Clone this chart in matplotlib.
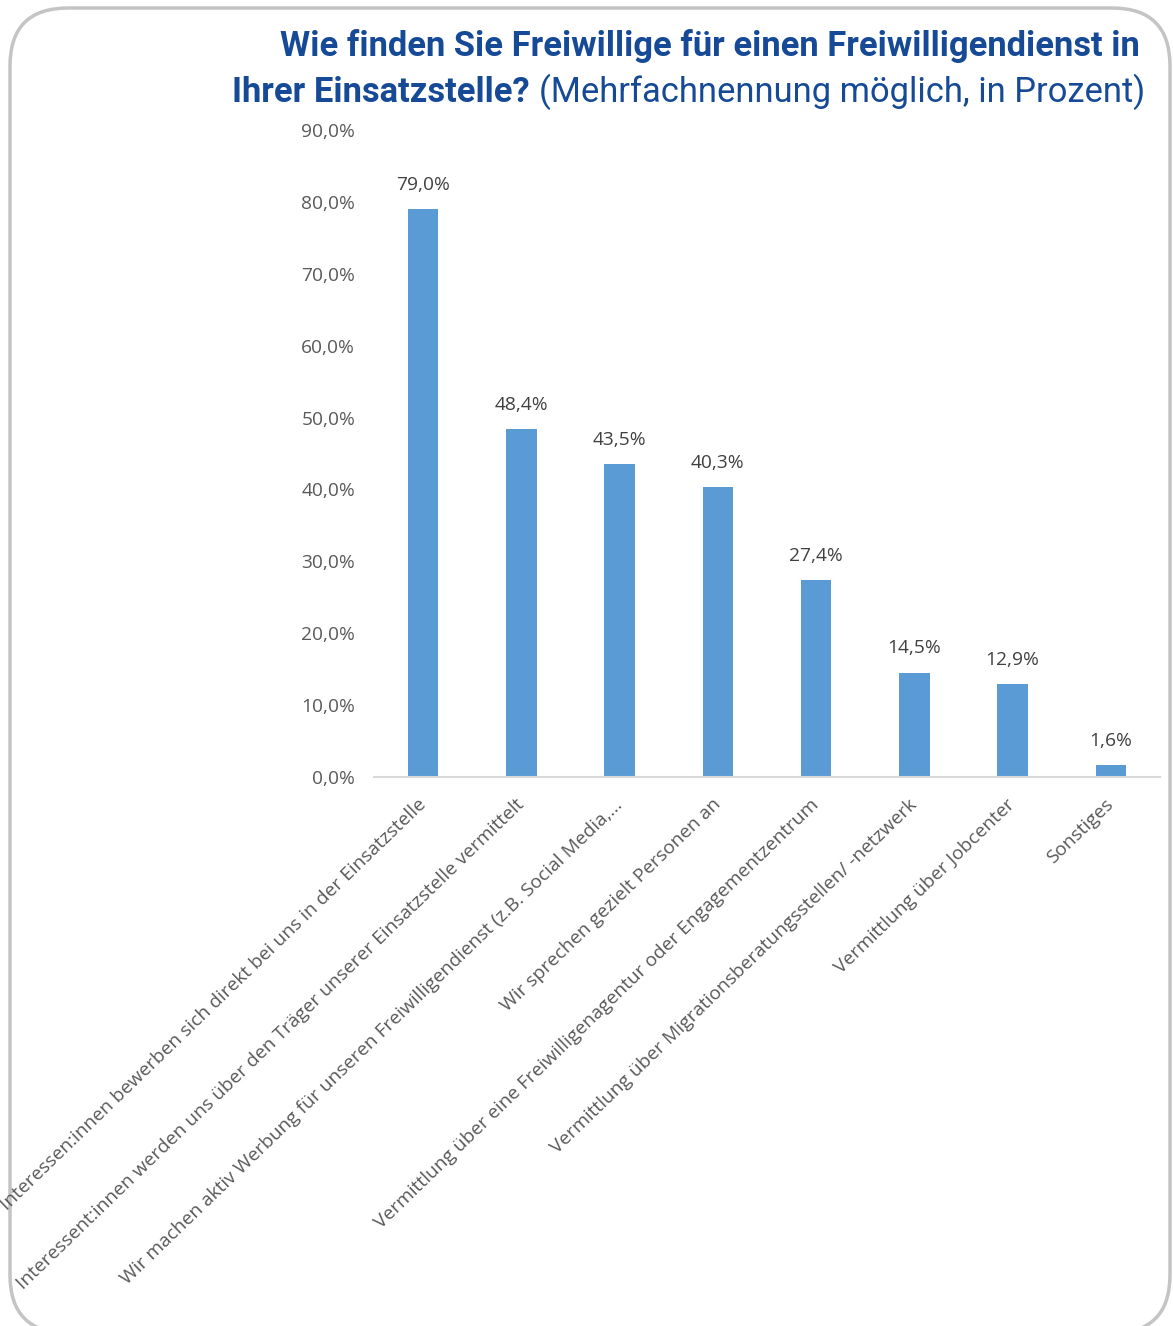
import matplotlib
matplotlib.use('Agg')
import matplotlib.pyplot as plt
from matplotlib.patches import FancyBboxPatch
import numpy as np

categories = [
    'Interessen:innen bewerben sich direkt bei uns in der Einsatzstelle',
    'Interessent:innen werden uns über den Träger unserer Einsatzstelle vermittelt',
    'Wir machen aktiv Werbung für unseren Freiwilligendienst (z.B. Social Media,...',
    'Wir sprechen gezielt Personen an',
    'Vermittlung über eine Freiwilligenagentur oder Engagementzentrum',
    'Vermittlung über Migrationsberatungsstellen/ -netzwerk',
    'Vermittlung über Jobcenter',
    'Sonstiges',
]
values = [79.0, 48.4, 43.5, 40.3, 27.4, 14.5, 12.9, 1.6]
y_ticks = [0, 10, 20, 30, 40, 50, 60, 70, 80, 90]

title_line1 = 'Wie finden Sie Freiwillige für einen Freiwilligendienst in'
title_bold2 = 'Ihrer Einsatzstelle?'
title_reg2 = '(Mehrfachnennung möglich, in Prozent)'

W, H = 1173, 1326
BAR_COLOR = '#5b9bd5'
TEXT_GRAY = '#595959'
TITLE_BLUE = '#164a96'
TITLE_FONT = ['Roboto', 'DejaVu Sans']
BODY_FONT = ['Open Sans', 'DejaVu Sans']
BODY_SIZE = 13.8
GAP = 9


def pct(v):
    return ('%.1f%%' % v).replace('.', ',')


fig = plt.figure(figsize=(W / 100, H / 100), dpi=100)

# Hintergrundkarte in Pixelkoordinaten
bg = fig.add_axes([0, 0, 1, 1], zorder=0)
bg.set_xlim(0, W)
bg.set_ylim(H, 0)
bg.axis('off')
card = FancyBboxPatch((10, 8), 1160, 1325, boxstyle='round,pad=0,rounding_size=58',
                      facecolor='white', edgecolor='#c4c4c4', linewidth=2.5)
bg.add_patch(card)

# Titel: Schriftgroesse so, dass beide Zeilen in die Breite der Vorlage passen
t1 = bg.text(1140, 46, title_line1, ha='right', va='center', fontsize=22,
             fontweight='bold', color=TITLE_BLUE, family=TITLE_FONT)
t2 = bg.text(1145, 92, title_reg2, ha='right', va='center', fontsize=22,
             color=TITLE_BLUE, family=TITLE_FONT)
t3 = bg.text(0, 92, title_bold2, ha='right', va='center', fontsize=22,
             fontweight='bold', color=TITLE_BLUE, family=TITLE_FONT)
fig.canvas.draw()
r = fig.canvas.get_renderer()
w1 = t1.get_window_extent(r).width
w2 = t2.get_window_extent(r).width + t3.get_window_extent(r).width
fs = 22 * min(903 / w1, (913 - GAP) / w2)
for t in (t1, t2, t3):
    t.set_fontsize(fs)
fig.canvas.draw()
t3.set_x(t2.get_window_extent(r).x0 - GAP)

# Diagramm
ax = fig.add_axes([374 / W, 1 - 777 / H, (1160 - 374) / W, (777 - 130) / H], zorder=1)
ax.patch.set_visible(False)
x = np.arange(len(categories))
ax.bar(x, values, width=0.31, color=BAR_COLOR, zorder=2)
ax.set_xlim(-0.5, len(categories) - 0.5)
ax.set_ylim(0, 90)
ax.set_yticks(y_ticks)
ax.set_yticklabels([pct(v) for v in y_ticks], family=BODY_FONT, fontsize=BODY_SIZE, color=TEXT_GRAY)
ax.tick_params(axis='y', length=0, pad=13.5)
ax.tick_params(axis='x', length=0, pad=18)
for s in ['top', 'right', 'left']:
    ax.spines[s].set_visible(False)
ax.spines['bottom'].set_color('#d9d9d9')
ax.spines['bottom'].set_linewidth(1.5)

ax.set_xticks(x)
ax.set_xticklabels(categories, rotation=44, ha='right', va='center', rotation_mode='anchor',
                   family=BODY_FONT, fontsize=BODY_SIZE, color=TEXT_GRAY)

for xi, v in zip(x, values):
    ax.annotate(pct(v), (xi, v), xytext=(0, 17.5), textcoords='offset points',
                ha='center', va='center', family=BODY_FONT, fontsize=BODY_SIZE, color='#404040')

fig.savefig('out.png', dpi=100)
